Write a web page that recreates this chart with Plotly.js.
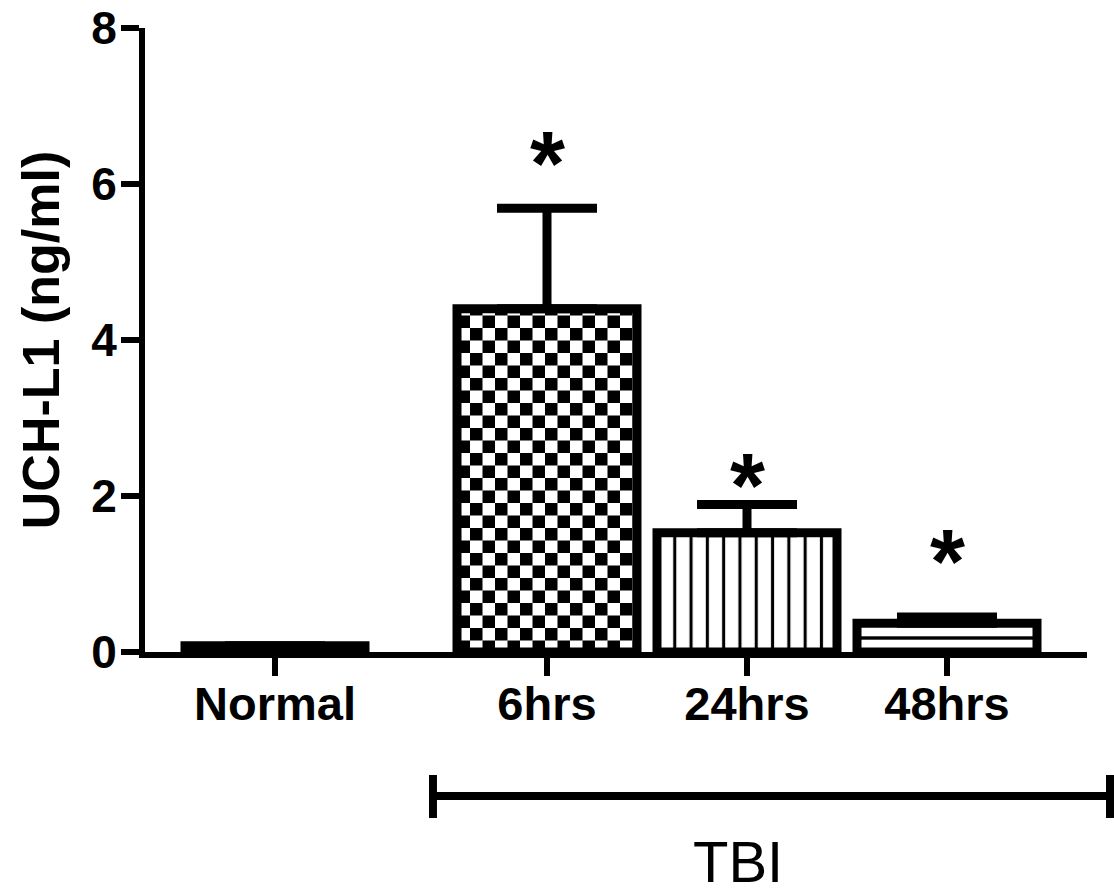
<!DOCTYPE html>
<html><head><meta charset="utf-8">
<script src="https://cdn.plot.ly/plotly-3.0.1.min.js"></script>
<style>html,body{margin:0;padding:0;background:#fff}#chart{width:1114px;height:892px}</style>
</head><body><div id="chart"></div>
<script>
// ---- data ----
const categories = ['Normal', '6hrs', '24hrs', '48hrs'];
const means = [0.08, 4.40, 1.53, 0.37];      // UCH-L1 (ng/ml)
const sem = [0.0, 1.29, 0.36, 0.08];
const semMinus = [0, 0, 0, 0];
const yTickVals = [0, 2, 4, 6, 8];
const yTickText = ['0', '2', '4', '6', '8'];
const sigMarks = ['', '*', '*', '*'];
const groupLabel = 'TBI';
const yTitle = 'UCH-L1 (ng/ml)';

// ---- layout helpers (positions, not data) ----
const slot = [0, 1.36, 2.36, 3.36];
const starY = [null, 6.46, 2.33, 1.36];

const trace = {
  type: 'bar',
  x: slot,
  y: means,
  width: 0.9,
  marker: {
    color: '#ffffff',
    line: {color: '#000000', width: 9},
    pattern: {
      shape: ['', '+', '|', '-'],
      size: [10, 25, 16.3, 20],
      solidity: [0.3, 0.5, 0.19, 0.17],
      fgcolor: '#000000',
      bgcolor: '#ffffff',
      fillmode: 'replace'
    }
  },
  error_y: {
    type: 'data', symmetric: false, array: sem, arrayminus: semMinus,
    color: '#000000', thickness: 9, width: 50
  },
  hoverinfo: 'skip'
};

const annotations = [];
sigMarks.forEach((m, i) => {
  if (!m) return;
  annotations.push({
    x: slot[i], y: starY[i], xref: 'x', yref: 'y', text: m, showarrow: false,
    xanchor: 'center', yanchor: 'middle', yshift: -16,
    font: {family: 'Liberation Sans, Arial, sans-serif', size: 90, color: '#000', weight: 'bold'}
  });
});
annotations.push({
  x: 0.6295, y: -0.3349, xref: 'paper', yref: 'paper', text: groupLabel, showarrow: false,
  xanchor: 'center', yanchor: 'middle', height: 56, valign: 'middle',
  font: {family: 'Liberation Sans, Arial, sans-serif', size: 58, color: '#000'}
});

const bracketLine = {color: '#000', width: 8};
const shapes = [
  {type: 'line', xref: 'paper', yref: 'paper', x0: 0.3057, x1: 1.0244, y0: -0.2308, y1: -0.2308, line: bracketLine},
  {type: 'line', xref: 'paper', yref: 'paper', x0: 0.3057, x1: 0.3057, y0: -0.1971, y1: -0.2660, line: bracketLine},
  {type: 'line', xref: 'paper', yref: 'paper', x0: 1.0244, x1: 1.0244, y0: -0.1971, y1: -0.2660, line: bracketLine}
];

const xTickFont = {family: 'Liberation Sans, Arial, sans-serif', size: 47, color: '#000', weight: 'bold'};
const yTickFont = {family: 'Liberation Sans, Arial, sans-serif', size: 46, color: '#000', weight: 'bold'};

const layout = {
  width: 1114, height: 892,
  margin: {l: 145, r: 27, t: 28, b: 240},
  paper_bgcolor: '#fff', plot_bgcolor: '#fff',
  showlegend: false,
  xaxis: {
    range: [-0.65, 4.06], tickmode: 'array', tickvals: slot, ticktext: categories,
    showline: true, linecolor: '#000', linewidth: 6, ticks: 'outside', ticklen: 18, tickwidth: 6,
    tickcolor: '#000', showgrid: false, zeroline: false, tickfont: xTickFont, fixedrange: true,
    ticklabelstandoff: -12, ticklabeloverflow: 'allow'
  },
  yaxis: {
    range: [0, 8], tickmode: 'array', tickvals: yTickVals, ticktext: yTickText,
    showline: true, linecolor: '#000', linewidth: 6, ticks: 'outside', ticklen: 18, tickwidth: 6,
    tickcolor: '#000', showgrid: false, zeroline: false, tickfont: yTickFont, fixedrange: true,
    ticklabelstandoff: -5, ticklabeloverflow: 'allow',
    title: {text: yTitle, font: {family: 'Liberation Sans, Arial, sans-serif', size: 52, color: '#000', weight: 'bold'}, standoff: 17}
  },
  annotations: annotations,
  shapes: shapes
};

function makeChecker(p) {
  const ns = 'http://www.w3.org/2000/svg';
  const s = 25, h = 12.5;
  p.setAttribute('width', s); p.setAttribute('height', s);
  while (p.firstChild) p.removeChild(p.firstChild);
  const mk = (x, y, w, hh, c) => {
    const r = document.createElementNS(ns, 'rect');
    r.setAttribute('x', x); r.setAttribute('y', y);
    r.setAttribute('width', w); r.setAttribute('height', hh);
    r.setAttribute('fill', c);
    p.appendChild(r);
  };
  mk(0, 0, s, s, '#ffffff');
  mk(0, 0, h, h, '#000000');
  mk(h, h, h, h, '#000000');
}

Plotly.newPlot('chart', [trace], layout, {staticPlot: true, displayModeBar: false}).then(gd => {
  const paths = gd.querySelectorAll('.bars .point path');
  if (paths.length > 1) {
    const f = paths[1].style.fill || paths[1].getAttribute('fill') || '';
    const m = f.match(/#([^"')]+)/);
    if (m) {
      const p = document.getElementById(m[1]);
      if (p) makeChecker(p);
    }
  }
});
</script>
</body></html>
